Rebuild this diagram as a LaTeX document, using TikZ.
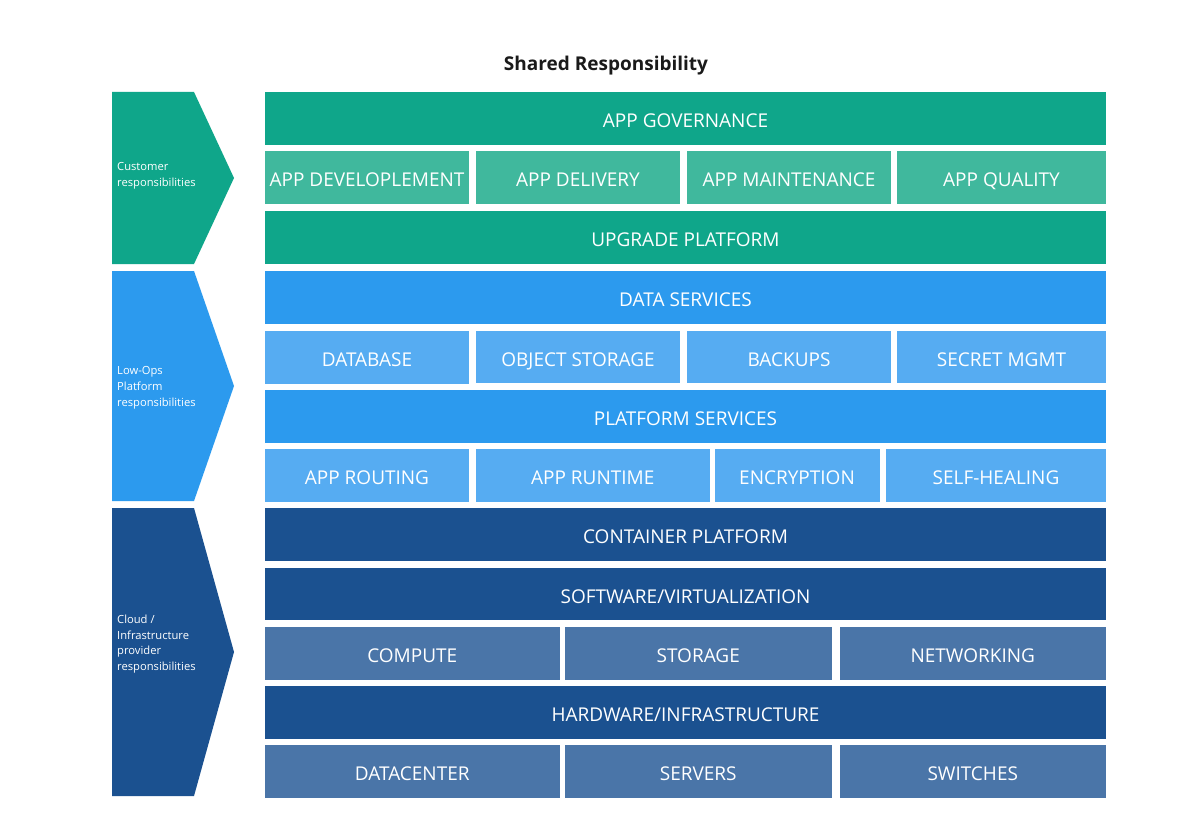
\documentclass[tikz,border=0pt]{standalone}
\usepackage{fontspec}
\setmainfont{Open Sans}
\definecolor{gdark}{HTML}{0FA68A}
\definecolor{glight}{HTML}{40B89D}
\definecolor{bmid}{HTML}{2C9AEE}
\definecolor{blight}{HTML}{56ACF2}
\definecolor{ndark}{HTML}{1B5190}
\definecolor{nlight}{HTML}{4A75A8}
\definecolor{titlec}{HTML}{1A1A1A}
\tikzset{
  cell/.style={rectangle, inner sep=0pt, text=white, text height=18pt, text depth=0pt,
    font=\fontsize{19}{23}\selectfont},
  full/.style={cell, minimum width=841pt},
  sidelabel/.style={anchor=north west, inner sep=0pt, text=white, align=left,
    font=\fontsize{11.2}{15.8}\selectfont},
}
\begin{document}
\begin{tikzpicture}[x=1pt,y=-1pt]
\useasboundingbox (0,0) rectangle (1201,832);
\fill[white] (0,0) rectangle (1201,832);
% title
\node[text=titlec, font=\fontsize{19}{23}\bfseries] (title) at (606,66) {Shared Responsibility};
% chevrons
\fill[gdark] (112,92) -- (194,92) -- (234,178) -- (194,264) -- (112,264) -- cycle;
\fill[bmid] (112,271) -- (194,271) -- (234,386) -- (194,501) -- (112,501) -- cycle;
\fill[ndark] (112,508) -- (194,508) -- (234,652) -- (194,796) -- (112,796) -- cycle;
\node[sidelabel] (cust) at (117,162.5) {Customer\\responsibilities};
\node[sidelabel] (lowops) at (117,366.5) {Low-Ops\\Platform\\responsibilities};
\node[sidelabel] (cloud) at (117,614.5) {Cloud /\\Infrastructure\\provider\\responsibilities};
% row 1
\node[full, fill=gdark, minimum height=53pt] (gov) at (685.5,118.5) {APP GOVERNANCE};
% row 2
\node[cell, fill=glight, minimum width=204pt, minimum height=52.5pt] (dev) at (367,177.25) {APP DEVELOPLEMENT};
\node[cell, fill=glight, minimum width=204pt, minimum height=52.5pt] (del) at (578,177.25) {APP DELIVERY};
\node[cell, fill=glight, minimum width=204pt, minimum height=52.5pt] (maint) at (789,177.25) {APP MAINTENANCE};
\node[cell, fill=glight, minimum width=209pt, minimum height=52.5pt] (qual) at (1001.5,177.25) {APP QUALITY};
% row 3
\node[full, fill=gdark, minimum height=53pt] (upg) at (685.5,237.5) {UPGRADE PLATFORM};
% row 4
\node[full, fill=bmid, minimum height=52.5pt] (data) at (685.5,297.25) {DATA SERVICES};
% row 5
\node[cell, fill=blight, minimum width=204pt, minimum height=53pt] (db) at (367,357.75) {DATABASE};
\node[cell, fill=blight, minimum width=204pt, minimum height=52pt] (obj) at (578,357) {OBJECT STORAGE};
\node[cell, fill=blight, minimum width=204pt, minimum height=52pt] (bak) at (789,357) {BACKUPS};
\node[cell, fill=blight, minimum width=209pt, minimum height=52pt] (sec) at (1001.5,357) {SECRET MGMT};
% row 6
\node[full, fill=bmid, minimum height=52.5pt] (plat) at (685.5,416.25) {PLATFORM SERVICES};
% row 7
\node[cell, fill=blight, minimum width=204pt, minimum height=52.5pt] (rout) at (367,475.25) {APP ROUTING};
\node[cell, fill=blight, minimum width=233.5pt, minimum height=52.5pt] (run) at (592.75,475.25) {APP RUNTIME};
\node[cell, fill=blight, minimum width=165pt, minimum height=52.5pt] (enc) at (797,475.25) {ENCRYPTION};
\node[cell, fill=blight, minimum width=220pt, minimum height=52.5pt] (heal) at (996,475.25) {SELF-HEALING};
% row 8
\node[full, fill=ndark, minimum height=53pt] (cont) at (685.5,534.5) {CONTAINER PLATFORM};
% row 9
\node[full, fill=ndark, minimum height=52pt] (soft) at (685.5,594) {SOFTWARE/VIRTUALIZATION};
% row 10
\node[cell, fill=nlight, minimum width=294.5pt, minimum height=53pt] (comp) at (412.25,653.5) {COMPUTE};
\node[cell, fill=nlight, minimum width=266.5pt, minimum height=53pt] (stor) at (698.25,653.5) {STORAGE};
\node[cell, fill=nlight, minimum width=266.5pt, minimum height=53pt] (net) at (972.75,653.5) {NETWORKING};
% row 11
\node[full, fill=ndark, minimum height=53pt] (hw) at (685.5,712.5) {HARDWARE/INFRASTRUCTURE};
% row 12
\node[cell, fill=nlight, minimum width=294.5pt, minimum height=53pt] (dc) at (412.25,771.5) {DATACENTER};
\node[cell, fill=nlight, minimum width=266.5pt, minimum height=53pt] (srv) at (698.25,771.5) {SERVERS};
\node[cell, fill=nlight, minimum width=266.5pt, minimum height=53pt] (sw) at (972.75,771.5) {SWITCHES};
\end{tikzpicture}
\end{document}
